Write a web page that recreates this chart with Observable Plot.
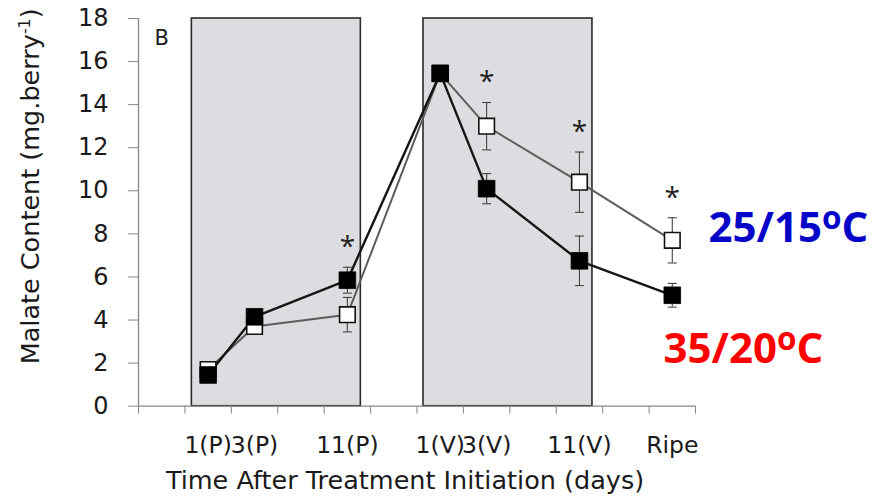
<!DOCTYPE html>
<html>
<head>
<meta charset="utf-8">
<script src="https://cdn.jsdelivr.net/npm/d3@7"></script>
<script src="https://cdn.jsdelivr.net/npm/@observablehq/plot@0.6"></script>
<style>
  html, body { margin: 0; padding: 0; background: white; }
  #chart svg { display: block; }
</style>
</head>
<body>
<div id="chart"></div>
<script>
// Categories along the x axis (blank slots are empty category positions)
const categories = ["", "1(P)", "3(P)", "", "11(P)", "", "1(V)", "3(V)", "", "11(V)", "", "Ripe"];
const timepoints = ["1(P)", "3(P)", "11(P)", "1(V)", "3(V)", "11(V)", "Ripe"];
// 25/15 °C (open squares)
const malate25 = [1.7, 3.7, 4.25, 15.45, 13.0, 10.4, 7.7];
const err25    = [0.15, 0.2, 0.8, 0.3, 1.1, 1.4, 1.05];
// 35/20 °C (filled squares)
const malate35 = [1.45, 4.15, 5.85, 15.45, 10.1, 6.75, 5.15];
const err35    = [0.15, 0.2, 0.6, 0.35, 0.7, 1.15, 0.55];
// significant differences
const significant = ["11(P)", "3(V)", "11(V)", "Ripe"];
// shaded treatment periods (in category-slot units)
const shadeStart = [1.15, 6.14];
const shadeEnd   = [4.79, 9.78];
const yTicks = [0, 2, 4, 6, 8, 10, 12, 14, 16, 18];

const pos = t => categories.indexOf(t) + 0.5;
const rows = timepoints.map((t, i) => ({
  t, x: pos(t),
  m25: malate25[i], e25: err25[i],
  m35: malate35[i], e35: err35[i]
}));
const stars = significant.map(t => {
  const r = rows.find(d => d.t === t);
  return {x: r.x, y: Math.max(r.m25 + r.e25, r.m35 + r.e35) + 1.35};
});
const shades = shadeStart.map((s, i) => ({x1: s, x2: shadeEnd[i]}));
const labels = categories.map((c, i) => ({c, x: i + 0.5})).filter(d => d.c);

const cap = {draw(ctx) { ctx.moveTo(-4.5, 0); ctx.lineTo(4.5, 0); }};
const FONT = "DejaVu Sans";

const chart = Plot.plot({
  width: 872,
  height: 501,
  marginLeft: 138,
  marginRight: 177,
  marginTop: 18,
  marginBottom: 95.3,
  x: {domain: [0, 12]},
  y: {domain: [0, 18]},
  style: {fontFamily: FONT, fontSize: "24px", color: "#1a1a1a", background: "white", overflow: "visible"},
  marks: [
    Plot.rect(shades, {x1: "x1", x2: "x2", y1: 0, y2: 18, fill: "#dcdde0", stroke: "#2a2a2a", strokeWidth: 1.6}),
    Plot.ruleX([0], {stroke: "#888", strokeWidth: 1.3}),
    Plot.ruleY([0], {stroke: "#888", strokeWidth: 1.3}),
    Plot.axisY({ticks: yTicks, tickSize: 10, tickPadding: 20, stroke: "#888", label: null, fontSize: 24}),
    Plot.axisX({ticks: d3.range(0, 13), tickSize: 8, tickFormat: () => "", stroke: "#888", label: null}),
    Plot.text(labels, {x: "x", text: "c", frameAnchor: "bottom", dy: 47, fontSize: 23.5}),
    Plot.text(["Time After Treatment Initiation (days)"], {frameAnchor: "bottom", dx: -12, dy: 83, fontSize: 25.5}),
    Plot.text(["Malate Content (mg.berry-1)"], {frameAnchor: "left", textAnchor: "middle", rotate: -90, dx: -108, dy: -26, fontSize: 25.5}),
    Plot.text(["B"], {frameAnchor: "top-left", dx: 16, dy: 12, fontSize: 21}),
    // error bars
    Plot.ruleX(rows, {x: "x", y1: d => d.m25 - d.e25, y2: d => d.m25 + d.e25, stroke: "#444", strokeWidth: 1.1}),
    Plot.dot(rows, {x: "x", y: d => d.m25 + d.e25, symbol: cap, stroke: "#444", strokeWidth: 1.1}),
    Plot.dot(rows, {x: "x", y: d => d.m25 - d.e25, symbol: cap, stroke: "#444", strokeWidth: 1.1}),
    Plot.ruleX(rows, {x: "x", y1: d => d.m35 - d.e35, y2: d => d.m35 + d.e35, stroke: "#444", strokeWidth: 1.1}),
    Plot.dot(rows, {x: "x", y: d => d.m35 + d.e35, symbol: cap, stroke: "#444", strokeWidth: 1.1}),
    Plot.dot(rows, {x: "x", y: d => d.m35 - d.e35, symbol: cap, stroke: "#444", strokeWidth: 1.1}),
    // lines
    Plot.line(rows, {x: "x", y: "m25", stroke: "#5c5c5c", strokeWidth: 2}),
    Plot.line(rows, {x: "x", y: "m35", stroke: "#151515", strokeWidth: 2.4}),
    // markers
    Plot.dot(rows, {x: "x", y: "m25", symbol: "square", r: 8.8, fill: "white", stroke: "#111", strokeWidth: 1.6}),
    Plot.dot(rows, {x: "x", y: "m35", symbol: "square", r: 9.4, fill: "#000", stroke: "#000", strokeWidth: 0.8}),
    // significance
    Plot.text(stars, {x: "x", y: "y", text: () => "*", fontFamily: "Open Sans", fontSize: 28, dy: 9, fill: "#222"}),
    // series labels
    Plot.text(["25/15oC"], {frameAnchor: "top-right", textAnchor: "start", dx: 13, dy: 210, fontFamily: "Open Sans", fontSize: 42, fontWeight: "bold", fill: "#0505c8", lineAnchor: "middle"}),
    Plot.text(["35/20oC"], {frameAnchor: "top-right", textAnchor: "start", dx: -32, dy: 331, fontFamily: "Open Sans", fontSize: 42, fontWeight: "bold", fill: "#ff0000", lineAnchor: "middle"})
  ]
});

// superscripts
const svg = d3.select(chart);
svg.selectAll("text").each(function() {
  const el = d3.select(this);
  const s = this.textContent;
  if (s === "25/15oC" || s === "35/20oC") {
    el.text(null);
    el.append("tspan").text(s.slice(0, 5));
    el.append("tspan").attr("font-size", "0.75em").attr("dy", -13).text("o");
    el.append("tspan").attr("dy", 13).text("C");
  } else if (s === "Malate Content (mg.berry-1)") {
    el.text(null);
    el.append("tspan").text("Malate Content (mg.berry");
    el.append("tspan").attr("font-size", "0.62em").attr("dy", -9).text("-1");
    el.append("tspan").attr("dy", 9).text(")");
  }
});
document.getElementById("chart").appendChild(chart);
</script>
</body>
</html>
